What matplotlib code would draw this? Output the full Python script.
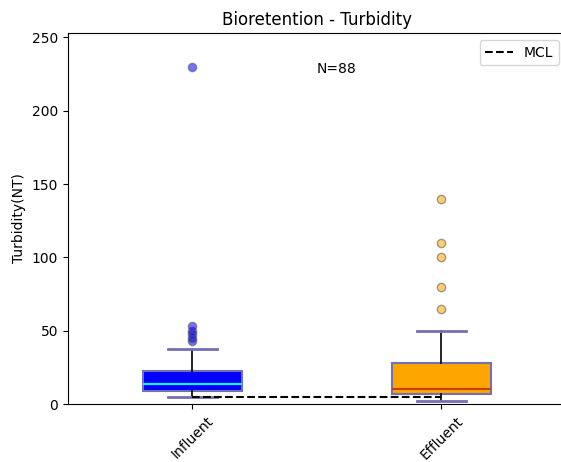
import matplotlib
matplotlib.use('Agg')
import matplotlib.pyplot as plt

# box statistics for each sampling point (NTU)
labels = ['Influent', 'Effluent']
q1 = [8.9, 6.6]
med = [13.4, 10.0]
q3 = [22.5, 27.7]
whislo = [4.8, 2.0]
whishi = [37.7, 49.5]
fliers = [[43, 45, 48, 50, 53, 230], [65, 80, 100, 110, 140]]
n_samples = 88
mcl = 5

fill_colors = ['blue', 'orange']
median_colors = ['cyan', '#c8401a']
edge_color = '#7570b3'

stats = []
for i, lab in enumerate(labels):
    stats.append(dict(label=lab, q1=q1[i], med=med[i], q3=q3[i],
                      whislo=whislo[i], whishi=whishi[i], fliers=fliers[i]))

fig = plt.figure(figsize=(5.61, 4.62), dpi=100)
ax = fig.add_axes([68/561, 58/462, 498/561, 371/462])

bp = ax.bxp(stats, patch_artist=True, widths=0.4)

for i, box in enumerate(bp['boxes']):
    box.set_facecolor(fill_colors[i])
    box.set_edgecolor(edge_color)
    box.set_linewidth(1.5)
for i, m in enumerate(bp['medians']):
    m.set_color(median_colors[i])
    m.set_linewidth(1.5)
for w in bp['whiskers']:
    w.set_color('black')
    w.set_linewidth(1.2)
for c in bp['caps']:
    c.set_color(edge_color)
    c.set_linewidth(2)
for i, f in enumerate(bp['fliers']):
    f.set_marker('o')
    f.set_markerfacecolor(fill_colors[i])
    f.set_markeredgecolor('#555555')
    f.set_markersize(6)
    f.set_alpha(0.55)

ax.plot([1, 2], [mcl, mcl], 'k--', linewidth=1.5, label='MCL')
ax.text(1.5, 226, 'N=%d' % n_samples, fontsize=10)

ax.set_xlim(0.5, 2.5)
ax.set_ylim(0, 253)
ax.set_xticklabels(labels, rotation=45)
ax.set_ylabel('Turbidity(NT)')
ax.set_title('Bioretention - Turbidity')
ax.legend(loc='upper right')

fig.savefig('out.png', dpi=100)
